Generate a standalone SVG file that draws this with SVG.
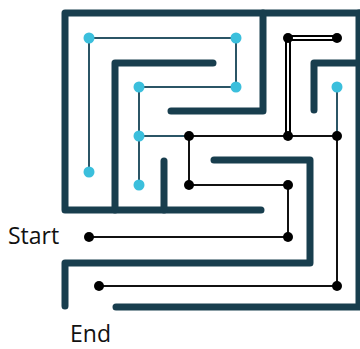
<svg xmlns="http://www.w3.org/2000/svg" width="360" height="349" viewBox="0 0 360 349">
<style>
.wall{fill:none;stroke:#183e4e;stroke-width:7;stroke-linecap:round;stroke-linejoin:round}
.tl{fill:none;stroke:#2b5566;stroke-width:2}
.bl{fill:none;stroke:#111;stroke-width:2}
.dbo{fill:none;stroke:#000;stroke-width:6;stroke-linejoin:miter}
.dbi{fill:none;stroke:#fff;stroke-width:2}
.cd{fill:#3bbfdc}
.bd{fill:#000}
.lbl{font-family:"Open Sans","Noto Sans",sans-serif;font-size:23px;fill:#111}
</style>
<rect width="360" height="349" fill="#fff"/>
<g id="walls">
<polyline class="wall" points="261,210 65,210 65,13 362,13"/>
<polyline class="wall" points="115,210 115,63 213,63"/>
<polyline class="wall" points="171,111 263,111 263,13"/>
<polyline class="wall" points="164,161 164,210"/>
<polyline class="wall" points="214,160 310,160 310,263 65,263 65,306"/>
<polyline class="wall" points="116,307 359,307 359,13"/>
<polyline class="wall" points="314,110 314,63 362,63"/>
</g>
<g id="connectors">
<polyline class="tl" points="236,38 89,38 89,172"/>
<polyline class="tl" points="236,38 236,87 139,87 139,185"/>
<line class="tl" x1="139" y1="136" x2="189" y2="136"/>
<line class="tl" x1="337" y1="87" x2="337" y2="136"/>
<polyline class="bl" points="189,136 337,136 337,286 99,286"/>
<polyline class="bl" points="189,136 189,185 288,185 288,237 89,237"/>
<polyline class="dbo" points="337,38 288,38 288,136"/>
<polyline class="dbi" points="337,38 288,38 288,136"/>
</g>
<g id="cyan-nodes">
<circle class="cd" cx="89" cy="38" r="5.5"/>
<circle class="cd" cx="236" cy="38" r="5.5"/>
<circle class="cd" cx="139" cy="87" r="5.5"/>
<circle class="cd" cx="236" cy="87" r="5.5"/>
<circle class="cd" cx="139" cy="136" r="5.5"/>
<circle class="cd" cx="89" cy="172" r="5.5"/>
<circle class="cd" cx="139" cy="185" r="5.5"/>
<circle class="cd" cx="337" cy="87" r="5.5"/>
</g>
<g id="black-nodes">
<circle class="bd" cx="189" cy="136" r="5"/>
<circle class="bd" cx="288" cy="136" r="5"/>
<circle class="bd" cx="337" cy="136" r="5"/>
<circle class="bd" cx="288" cy="38" r="5"/>
<circle class="bd" cx="337" cy="38" r="5"/>
<circle class="bd" cx="189" cy="185" r="5"/>
<circle class="bd" cx="288" cy="185" r="5"/>
<circle class="bd" cx="288" cy="237" r="5"/>
<circle class="bd" cx="89" cy="237" r="5"/>
<circle class="bd" cx="99" cy="286" r="5"/>
<circle class="bd" cx="337" cy="286" r="5"/>
</g>
<g id="labels">
<text class="lbl" x="8" y="244">Start</text>
<text class="lbl" x="70" y="342">End</text>
</g>
</svg>
